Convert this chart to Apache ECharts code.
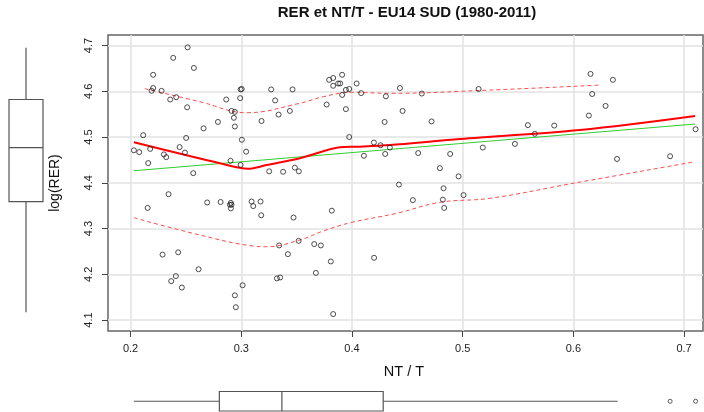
<!DOCTYPE html>
<html>
<head>
<meta charset="utf-8">
<script src="https://cdn.jsdelivr.net/npm/echarts@6/dist/echarts.min.js"></script>
<style>
html,body{margin:0;padding:0;background:#fff;}
#chart{width:704px;height:412px;}
</style>
</head>
<body>
<div id="chart"></div>
<script>
// ---- data ----
const ntT = [0.2515,0.2385,0.2572,0.2204,0.2204,0.2190,0.2280,0.2358,0.2412,0.2511,
  0.2994,0.3004,0.3270,0.3463,0.2990,0.2864,0.3306,0.2912,0.2942,0.2933,
  0.2942,0.2789,0.2659,0.3183,0.3337,0.3439,0.2114,0.2502,0.3005,0.2030,
  0.2078,0.2177,0.2443,0.2301,0.2322,0.2491,0.3044,0.2159,0.2903,0.2994,
  0.2566,0.3252,0.3378,0.3484,0.3520,0.2343,0.2154,0.2692,0.2813,0.2906,
  0.2912,0.2897,0.2906,0.3093,0.3108,0.3174,0.3180,0.3472,0.2289,0.2430,
  0.3342,0.3421,0.3518,0.2614,0.2409,0.2367,0.2463,0.3322,0.3351,0.3012,
  0.2942,0.2951,0.3794,0.3830,0.3911,0.3875,0.3893,0.3830,0.3945,0.3975,
  0.3911,0.4042,0.4083,0.4306,0.4433,0.4631,0.5144,0.3771,0.3945,0.4457,
  0.4295,0.4719,0.3975,0.4198,0.4258,0.4342,0.4108,0.4300,0.4598,0.4887,
  0.5182,0.4794,0.4963,0.4424,0.4827,0.4550,0.4821,0.4833,0.5008,0.3818,
  0.3659,0.3719,0.3809,0.4200,0.3674,0.3830,0.6155,0.6357,0.6170,0.6291,
  0.6140,0.5589,0.5827,0.5652,0.7104,0.5472,0.6394,0.6874];
const logRER = [4.696,4.673,4.651,4.636,4.607,4.601,4.601,4.582,4.587,4.565,
  4.604,4.605,4.604,4.604,4.585,4.582,4.580,4.557,4.555,4.542,
  4.523,4.533,4.519,4.535,4.549,4.557,4.504,4.498,4.494,4.471,
  4.467,4.474,4.478,4.462,4.456,4.466,4.468,4.443,4.448,4.439,
  4.421,4.425,4.424,4.433,4.425,4.375,4.345,4.357,4.358,4.356,
  4.352,4.352,4.344,4.359,4.349,4.359,4.329,4.324,4.243,4.248,
  4.263,4.244,4.273,4.211,4.196,4.185,4.171,4.191,4.193,4.176,
  4.154,4.128,4.625,4.629,4.636,4.617,4.617,4.612,4.603,4.605,
  4.592,4.617,4.596,4.589,4.607,4.595,4.605,4.571,4.561,4.557,
  4.533,4.534,4.500,4.488,4.482,4.477,4.459,4.463,4.465,4.463,
  4.477,4.432,4.414,4.396,4.388,4.362,4.363,4.345,4.373,4.339,
  4.266,4.263,4.228,4.236,4.203,4.113,4.638,4.625,4.594,4.568,
  4.547,4.526,4.525,4.507,4.517,4.485,4.452,4.458];

// linear fit (green)
const fitX = [0.203, 0.710];
const fitY = [4.4263, 4.5284];
// loess smooth (red)
const smoothX = [0.203,0.2807,0.3062,0.3229,0.3529,0.3891,0.4042,0.4342,0.4945,0.6058,0.710];
const smoothY = [4.4884,4.4425,4.4307,4.4388,4.4534,4.4775,4.4788,4.4825,4.4950,4.5153,4.5459];
// spread upper (red dashed)
const upperX = [0.2129,0.2626,0.3048,0.3529,0.3740,0.3996,0.4342,0.5246,0.6255];
const upperY = [4.6056,4.5772,4.5531,4.5737,4.5881,4.5977,4.5955,4.6027,4.6137];
// spread lower (red dashed)
const lowerX = [0.203,0.2626,0.3107,0.3229,0.3529,0.3740,0.3999,0.4403,0.4794,0.5246,0.5998,0.7098];
const lowerY = [4.3236,4.2858,4.2617,4.2602,4.2749,4.2945,4.3135,4.3332,4.3573,4.3660,4.3988,4.4460];

// marginal boxplots: [lower whisker, Q1, median, Q3, upper whisker]
const boxY = [4.117, 4.359, 4.477, 4.582, 4.695];
const boxX = [0.2029, 0.2802, 0.3367, 0.4282, 0.6400];
const outliersX = [0.6874, 0.7104];

const xTicks = [0.2, 0.3, 0.4, 0.5, 0.6, 0.7];
const yTicks = [4.1, 4.2, 4.3, 4.4, 4.5, 4.6, 4.7];

const titleText = 'RER et NT/T - EU14 SUD (1980-2011)';
const xLabel = 'NT / T';
const yLabel = 'log(RER)';

// ---- chart ----
const X_MIN = 0.1796, X_MAX = 0.7171, Y_MIN = 4.076, Y_MAX = 4.723;
const FONT = 'Liberation Sans, Arial, sans-serif';
const pair = (xs, ys) => xs.map((x, i) => [x, ys[i]]);

const chart = echarts.init(document.getElementById('chart'), null, {renderer: 'canvas'});

const stroke = '#555';
const option = {
  backgroundColor: '#fff',
  animation: false,
  grid: [
    {left: 108, right: 1, top: 35, bottom: 81, show: true, borderColor: '#666', borderWidth: 1.5, backgroundColor: 'transparent'},
    {left: 9, width: 34, top: 35, bottom: 81},
    {left: 108, right: 1, top: 391.5, height: 19.5}
  ],
  xAxis: [
    {type: 'value', gridIndex: 0, min: X_MIN, max: X_MAX,
     axisLine: {show: false},
     axisTick: {show: true, length: 6, customValues: xTicks, lineStyle: {color: '#444'}},
     axisLabel: {customValues: xTicks, formatter: v => v.toFixed(1), margin: 12, fontSize: 11, color: '#222', fontFamily: FONT},
     splitLine: {show: true, lineStyle: {color: '#e2e2e2', width: 1.5}}},
    {type: 'value', gridIndex: 1, min: 0, max: 1, show: false},
    {type: 'value', gridIndex: 2, min: X_MIN, max: X_MAX, show: false}
  ],
  yAxis: [
    {type: 'value', gridIndex: 0, min: Y_MIN, max: Y_MAX,
     axisLine: {show: false},
     axisTick: {show: true, length: 6, customValues: yTicks, lineStyle: {color: '#444'}},
     axisLabel: {customValues: yTicks, formatter: v => v.toFixed(1), rotate: 90, margin: 14, fontSize: 11, color: '#222', fontFamily: FONT},
     splitLine: {show: true, lineStyle: {color: '#e2e2e2', width: 1.5}}},
    {type: 'value', gridIndex: 1, min: Y_MIN, max: Y_MAX, show: false},
    {type: 'value', gridIndex: 2, min: 0, max: 1, show: false}
  ],
  graphic: [
    {type: 'text', x: 407, y: 13, style: {text: titleText, font: 'bold 15px ' + FONT, fill: '#111', textAlign: 'center', textVerticalAlign: 'middle'}},
    {type: 'text', x: 404, y: 372, style: {text: xLabel, font: '14.5px ' + FONT, fill: '#111', textAlign: 'center', textVerticalAlign: 'middle'}},
    {type: 'text', x: 55, y: 183, rotation: Math.PI / 2, style: {text: yLabel, font: '14px ' + FONT, fill: '#111', textAlign: 'center', textVerticalAlign: 'middle'}}
  ],
  series: [
    {type: 'line', xAxisIndex: 0, yAxisIndex: 0, data: pair(fitX, fitY), showSymbol: false, silent: true,
     lineStyle: {color: '#33cc33', width: 1}, z: 3},
    {type: 'line', xAxisIndex: 0, yAxisIndex: 0, data: pair(upperX, upperY), showSymbol: false, smooth: 0.4, silent: true,
     lineStyle: {color: '#ff4d4d', width: 1, type: [4, 3]}, z: 3},
    {type: 'line', xAxisIndex: 0, yAxisIndex: 0, data: pair(lowerX, lowerY), showSymbol: false, smooth: 0.4, silent: true,
     lineStyle: {color: '#ff4d4d', width: 1, type: [4, 3]}, z: 3},
    {type: 'line', xAxisIndex: 0, yAxisIndex: 0, data: pair(smoothX, smoothY), showSymbol: false, smooth: 0.3, silent: true,
     lineStyle: {color: '#ff0000', width: 2}, z: 4},
    {type: 'scatter', xAxisIndex: 0, yAxisIndex: 0, data: pair(ntT, logRER), symbol: 'circle', symbolSize: 5,
     itemStyle: {color: 'rgba(255,255,255,0)', borderColor: '#222', borderWidth: 1}, z: 5},
    {type: 'custom', xAxisIndex: 1, yAxisIndex: 1, data: [[0.5, boxY[2]]], silent: true,
     renderItem: (params, api) => {
       const yc = v => api.coord([0, v])[1];
       const x0 = api.coord([0, boxY[2]])[0], x1 = api.coord([1, boxY[2]])[0], xm = (x0 + x1) / 2;
       const st = {stroke: stroke, lineWidth: 1.2, fill: null};
       return {type: 'group', children: [
         {type: 'line', shape: {x1: xm, y1: yc(boxY[4]), x2: xm, y2: yc(boxY[3])}, style: st},
         {type: 'line', shape: {x1: xm, y1: yc(boxY[1]), x2: xm, y2: yc(boxY[0])}, style: st},
         {type: 'rect', shape: {x: x0, y: yc(boxY[3]), width: x1 - x0, height: yc(boxY[1]) - yc(boxY[3])}, style: {stroke: stroke, lineWidth: 1.2, fill: '#fff'}},
         {type: 'line', shape: {x1: x0, y1: yc(boxY[2]), x2: x1, y2: yc(boxY[2])}, style: st}
       ]};
     }},
    {type: 'custom', xAxisIndex: 2, yAxisIndex: 2, data: [[boxX[2], 0.5]], silent: true,
     renderItem: (params, api) => {
       const xc = v => api.coord([v, 0])[0];
       const y0 = api.coord([boxX[2], 1])[1], y1 = api.coord([boxX[2], 0])[1], ym = (y0 + y1) / 2;
       const st = {stroke: stroke, lineWidth: 1.2, fill: null};
       return {type: 'group', children: [
         {type: 'line', shape: {x1: xc(boxX[0]), y1: ym, x2: xc(boxX[1]), y2: ym}, style: st},
         {type: 'line', shape: {x1: xc(boxX[3]), y1: ym, x2: xc(boxX[4]), y2: ym}, style: st},
         {type: 'rect', shape: {x: xc(boxX[1]), y: y0, width: xc(boxX[3]) - xc(boxX[1]), height: y1 - y0}, style: {stroke: stroke, lineWidth: 1.2, fill: '#fff'}},
         {type: 'line', shape: {x1: xc(boxX[2]), y1: y0, x2: xc(boxX[2]), y2: y1}, style: st}
       ]};
     }},
    {type: 'scatter', xAxisIndex: 2, yAxisIndex: 2, data: outliersX.map(x => [x, 0.5]), symbol: 'circle', symbolSize: 4,
     itemStyle: {color: 'rgba(255,255,255,0)', borderColor: '#333', borderWidth: 1}}
  ]
};
chart.setOption(option);
</script>
</body>
</html>
